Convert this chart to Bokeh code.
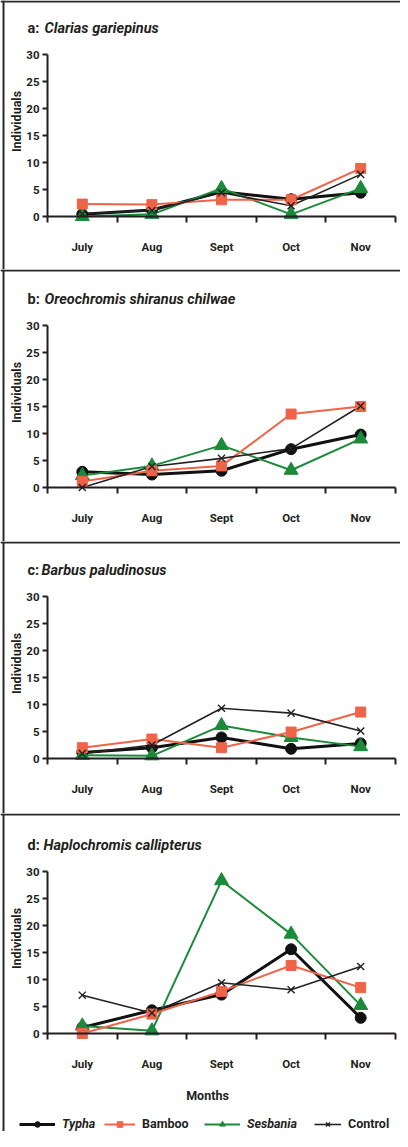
from bokeh.plotting import figure
from bokeh.models import Label, Legend, LegendItem, FixedTicker, Range1d, Span
from bokeh.layouts import column
from bokeh.embed import file_html
from bokeh.resources import INLINE

# ---------------- data ----------------
months = ["July", "Aug", "Sept", "Oct", "Nov"]
panel_letters = ["a:", "b:", "c:", "d:"]
species = ["Clarias gariepinus", "Oreochromis shiranus chilwae",
           "Barbus paludinosus", "Haplochromis callipterus"]
y_ticks = [0, 5, 10, 15, 20, 25, 30]
series_names = ["Typha", "Bamboo", "Sesbania", "Control"]

typha_a = [0.4, 1.2, 4.6, 3.2, 4.4]
bamboo_a = [2.3, 2.2, 3.1, 3.1, 8.9]
sesbania_a = [0.0, 0.4, 5.2, 0.4, 5.2]
control_a = [0.5, 1.1, 4.4, 2.0, 7.8]

typha_b = [2.9, 2.4, 3.1, 7.1, 9.8]
bamboo_b = [1.1, 3.1, 4.0, 13.6, 15.0]
sesbania_b = [2.2, 4.0, 7.8, 3.2, 9.0]
control_b = [0.0, 3.9, 5.4, 7.2, 15.1]

typha_c = [1.1, 2.0, 3.9, 1.8, 2.8]
bamboo_c = [2.0, 3.6, 2.0, 4.9, 8.6]
sesbania_c = [0.6, 0.5, 6.1, 3.9, 2.2]
control_c = [0.9, 2.5, 9.3, 8.4, 5.1]

typha_d = [1.1, 4.3, 7.2, 15.6, 2.9]
bamboo_d = [0.0, 3.6, 7.8, 12.6, 8.5]
sesbania_d = [1.4, 0.5, 28.3, 18.4, 5.2]
control_d = [7.1, 3.8, 9.4, 8.1, 12.4]

panels = [
    (typha_a, bamboo_a, sesbania_a, control_a),
    (typha_b, bamboo_b, sesbania_b, control_b),
    (typha_c, bamboo_c, sesbania_c, control_c),
    (typha_d, bamboo_d, sesbania_d, control_d),
]

# ---------------- style / layout ----------------
FONT = "Roboto"
DARK = "#231f20"
BORDER = "#2b2b2b"
COL_TYPHA = "#111111"
COL_BAMBOO = "#ef6448"
COL_SESB = "#1b8a3b"
COL_CTRL = "#222222"

W = 400
AX_LEFT = 47           # px from figure left to y axis (page x 55)
AX_W = 348             # px width of the 0..5 x span
FH = 162               # px height of the 0..30 y span
heights = [269, 272, 272, 318]
tops = [54, 56, 55, 58]          # px from panel top to y=30
species_x = [52, 52, 49, 51]     # page x of species name

XPU = AX_W / 5.0
YPU = FH / 30.0


def px_x(page_x):
    return (page_x - 8 - AX_LEFT) / XPU


def above(px):
    return 30 + px / YPU


def below(px):
    return -px / YPU


xs = [i + 0.5 for i in range(len(months))]
figs = []
for k, (ty, ba, se, co) in enumerate(panels):
    H = heights[k]
    T = tops[k]
    x0 = -AX_LEFT / XPU
    x1 = (W - AX_LEFT) / XPU
    y1 = 30 + T / YPU
    y0 = -(H - T - FH) / YPU
    p = figure(width=W, height=H, output_backend="svg", toolbar_location=None,
               x_range=Range1d(x0, x1), y_range=Range1d(y0, y1),
               min_border_left=0, min_border_right=0,
               min_border_top=0, min_border_bottom=0,
               outline_line_color=None, background_fill_color="white",
               border_fill_color="white")
    p.title.visible = False
    p.grid.visible = False

    xa = p.xaxis[0]
    xa.fixed_location = 0
    xa.bounds = (0, 5)
    xa.ticker = FixedTicker(ticks=xs, minor_ticks=[0, 1, 2, 3, 4, 5])
    xa.major_label_overrides = {x: m for x, m in zip(xs, months)}
    xa.major_tick_line_color = None
    xa.major_tick_out = 0
    xa.major_tick_in = 0
    xa.minor_tick_line_color = DARK
    xa.minor_tick_line_width = 2
    xa.minor_tick_out = 6
    xa.minor_tick_in = 0
    xa.axis_line_color = DARK
    xa.axis_line_width = 2
    xa.major_label_standoff = 17
    xa.major_label_text_font = FONT
    xa.major_label_text_font_style = "bold"
    xa.major_label_text_font_size = "11.5px"
    xa.major_label_text_color = DARK

    ya = p.yaxis[0]
    ya.fixed_location = 0
    ya.bounds = (0, 30)
    ya.ticker = FixedTicker(ticks=y_ticks)
    ya.major_tick_line_color = DARK
    ya.major_tick_line_width = 2
    ya.major_tick_out = 5
    ya.major_tick_in = 0
    ya.minor_tick_line_color = None
    ya.axis_line_color = DARK
    ya.axis_line_width = 2
    ya.major_label_standoff = 3
    ya.major_label_text_font = FONT
    ya.major_label_text_font_style = "bold"
    ya.major_label_text_font_size = "11.5px"
    ya.major_label_text_color = DARK

    # panel borders (top separator and left rule)
    p.add_layout(Span(location=y1 - 1 / YPU, dimension="width",
                      line_color=BORDER, line_width=2))
    p.add_layout(Span(location=px_x(11), dimension="height",
                      line_color=BORDER, line_width=2))

    # series
    lt = p.line(xs, ty, line_color=COL_TYPHA, line_width=3)
    ls = p.line(xs, se, line_color=COL_SESB, line_width=2)
    lb = p.line(xs, ba, line_color=COL_BAMBOO, line_width=2)
    lc = p.line(xs, co, line_color=COL_CTRL, line_width=1.6)
    mt = p.scatter(xs, ty, marker="circle", size=11, fill_color=COL_TYPHA, line_color=COL_TYPHA)
    ms = p.scatter(xs, se, marker="triangle", size=14, fill_color=COL_SESB, line_color=COL_SESB)
    mb = p.scatter(xs, ba, marker="square", size=10, fill_color=COL_BAMBOO, line_color=COL_BAMBOO)
    mc = p.scatter(xs, co, marker="x", size=10, line_color=COL_CTRL, line_width=1.4)

    # title: letter + italic species name
    p.add_layout(Label(x=px_x(35), y=above(26), text=panel_letters[k],
                       text_font=FONT, text_font_style="bold", text_font_size="14.5px",
                       text_baseline="middle", text_color=DARK))
    p.add_layout(Label(x=px_x(species_x[k]), y=above(26), text=species[k],
                       text_font=FONT, text_font_style="bold italic", text_font_size="14.5px",
                       text_baseline="middle", text_color=DARK))
    # y axis title
    p.add_layout(Label(x=px_x(24), y=above(-67), text="Individuals", angle=90,
                       angle_units="deg", text_align="center", text_baseline="middle",
                       text_font=FONT, text_font_style="bold", text_font_size="12.5px",
                       text_color=DARK))

    if k == 3:
        p.add_layout(Label(x=px_x(215), y=below(62), text="Months",
                           text_align="center", text_baseline="middle",
                           text_font=FONT, text_font_style="bold", text_font_size="12.5px",
                           text_color=DARK))
        specs = [
            ("Typha", [lt, mt], 27, 36, "bold italic"),
            ("Bamboo", [lb, mb], 112, 31, "bold"),
            ("Sesbania", [ls, ms], 212, 36, "bold italic"),
            ("Control", [lc, mc], 322, 27, "bold"),
        ]
        for name, rends, gx, gw, style in specs:
            lg = Legend(items=[LegendItem(label=name, renderers=rends)],
                        location=(gx - 8, 0), orientation="horizontal",
                        glyph_width=gw, glyph_height=14, label_standoff=7,
                        label_height=14, padding=0, margin=0, spacing=0,
                        border_line_color=None, background_fill_alpha=0,
                        label_text_font=FONT, label_text_font_style=style,
                        label_text_font_size="12.5px", label_text_color=DARK)
            p.add_layout(lg, "center")
    figs.append(p)

layout = column(*figs, spacing=0)
open("out.html", "w").write(file_html(layout, INLINE))
